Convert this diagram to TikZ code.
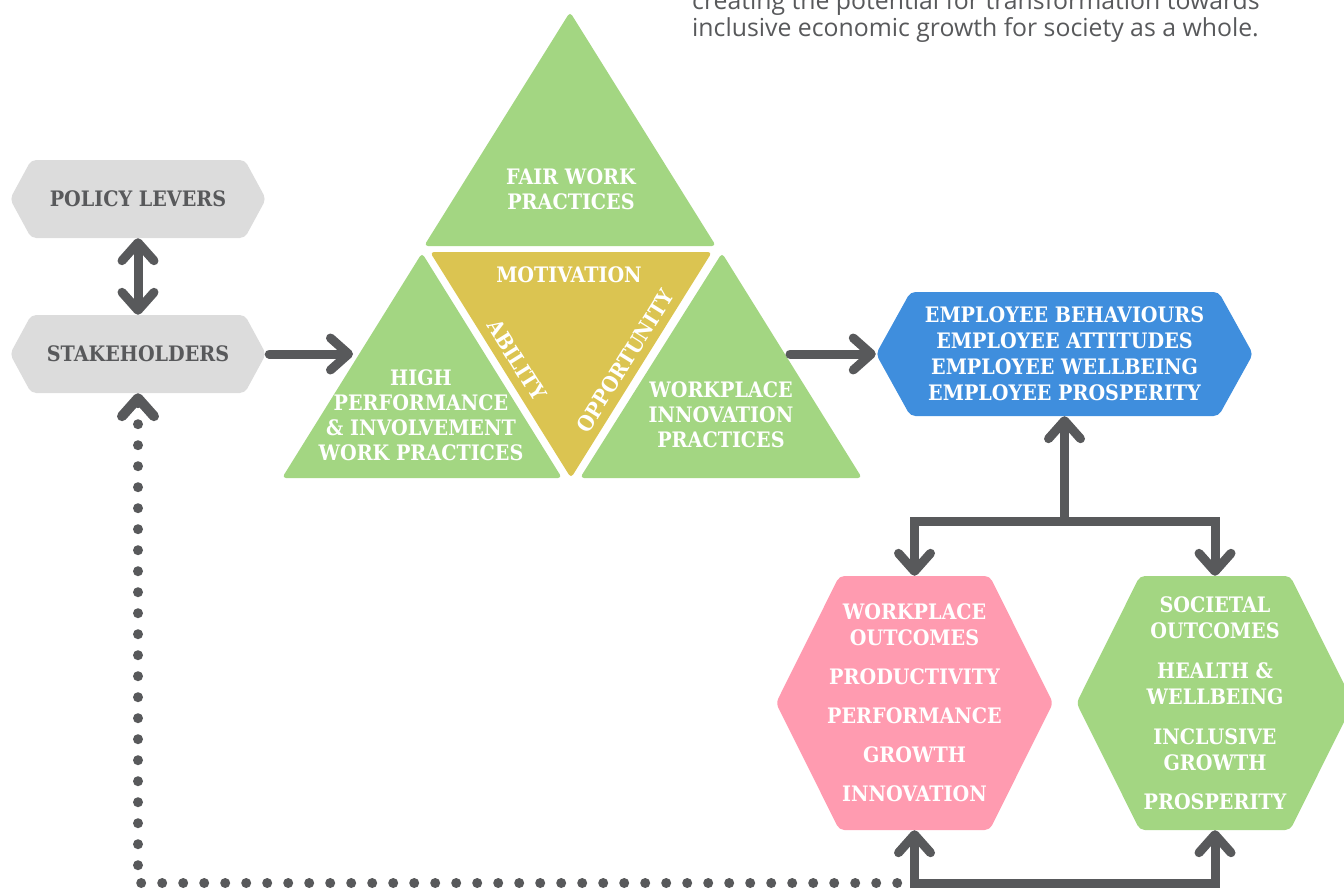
\documentclass[tikz,border=0pt]{standalone}
\usepackage{fontspec}
\setmainfont{DejaVu Serif Condensed}
\newfontfamily\introfont{Open Sans}
\usetikzlibrary{arrows.meta,shapes.symbols}

\definecolor{ink}{HTML}{58595B}
\definecolor{boxgrey}{HTML}{DCDCDC}
\definecolor{leaf}{HTML}{A3D682}
\definecolor{mustard}{HTML}{DBC451}
\definecolor{rose}{HTML}{FF9BB0}
\definecolor{sky}{HTML}{3F8EDD}

\tikzset{
  >={Straight Barb[length=18pt,width=32pt,round]},
  arr/.style={ink, line width=9pt, line cap=round},
  dots/.style={ink, line width=10pt, line cap=round, dash pattern=on 0pt off 21pt},
  hexa/.style={shape=signal, signal to=west and east, inner sep=0pt,
    rounded corners=5pt, align=center, text=white,
    font=\bfseries\fontsize{21.3}{26}\selectfont},
  greyhex/.style={hexa, fill=boxgrey, text=ink, minimum width=256pt,
    minimum height=78pt, signal pointer angle=123},
  tri/.style={fill=#1, rounded corners=4pt},
  trilabel/.style={text=white, align=center, font=\bfseries\fontsize{21.3}{25}\selectfont}
}

\begin{document}
\begin{tikzpicture}[x=1pt,y=-1pt]
\useasboundingbox (0,0) rectangle (1344,889);
\clip (0,0) rectangle (1344,889);

% intro text, cut off at the top
\node[anchor=base west, align=left, inner sep=0pt, text=ink,
  font=\introfont\fontsize{24.8}{27}\selectfont] (intro) at (692,36)
  {creating the potential for transformation towards\\inclusive economic growth for society as a whole.};

% the four triangles
\fill[tri=leaf] (570,12) -- (716,246) -- (424,246) -- cycle;
\fill[tri=leaf] (422,253) -- (562,478) -- (282,478) -- cycle;
\fill[tri=mustard] (430,252) -- (712,252) -- (571,478) -- cycle;
\fill[tri=leaf] (722,253) -- (862,478) -- (580,478) -- cycle;

\node[trilabel] (fair) at (571,189) {FAIR WORK\\PRACTICES};
\node[trilabel] (motiv) at (569,275) {MOTIVATION};
\node[trilabel, rotate=-58] (abil) at (517,360) {ABILITY};
\node[trilabel, rotate=58] (opp) at (625,361) {OPPORTUNITY};
\node[trilabel] (hpw) at (421,415) {HIGH\\PERFORMANCE\\\& INVOLVEMENT\\WORK PRACTICES};
\node[trilabel] (wip) at (721,415) {WORKPLACE\\INNOVATION\\PRACTICES};
\coordinate (triin) at (353,354);
\coordinate (triout) at (790,354);

% hexagons
\node[greyhex] (policy) at (138,199) {POLICY LEVERS};
\node[greyhex] (stake) at (138,354) {STAKEHOLDERS};
\node[hexa, fill=sky, minimum width=377pt, minimum height=124pt,
  signal pointer angle=122] (emp) at (1064.5,354)
  {EMPLOYEE BEHAVIOURS\\EMPLOYEE ATTITUDES\\EMPLOYEE WELLBEING\\EMPLOYEE PROSPERITY};
\node[hexa, fill=rose, minimum width=277pt, minimum height=254pt, inner xsep=-16pt,
  signal pointer angle=127] (wo) at (914.5,703)
  {WORKPLACE\\OUTCOMES\\[13pt]PRODUCTIVITY\\[13pt]PERFORMANCE\\[13pt]GROWTH\\[13pt]INNOVATION};
\node[hexa, fill=leaf, minimum width=277pt, minimum height=254pt,
  signal pointer angle=127] (so) at (1215,703)
  {SOCIETAL\\OUTCOMES\\[14pt]HEALTH \&\\WELLBEING\\[14pt]INCLUSIVE\\GROWTH\\[13pt]PROSPERITY};

% connectors
\draw[arr,<->] (policy.south) -- (stake.north);
\draw[arr,->] ([xshift=3pt]stake.east) -- (triin);
\draw[arr,->] (triout) -- (emp.west);
\coordinate (split) at (emp.south |- 0,521);
\draw[arr,<->] (wo.north) |- (split) -| (so.north);
\draw[arr,->] (split) -- (emp.south);
\coordinate (fb) at (wo.south |- 0,883);
\draw[arr,<->] (wo.south) -- (fb) -| (so.south);

% feedback loop
\draw[dots,<-] (stake.south) |- ([xshift=-17pt]fb);
\end{tikzpicture}
\end{document}
